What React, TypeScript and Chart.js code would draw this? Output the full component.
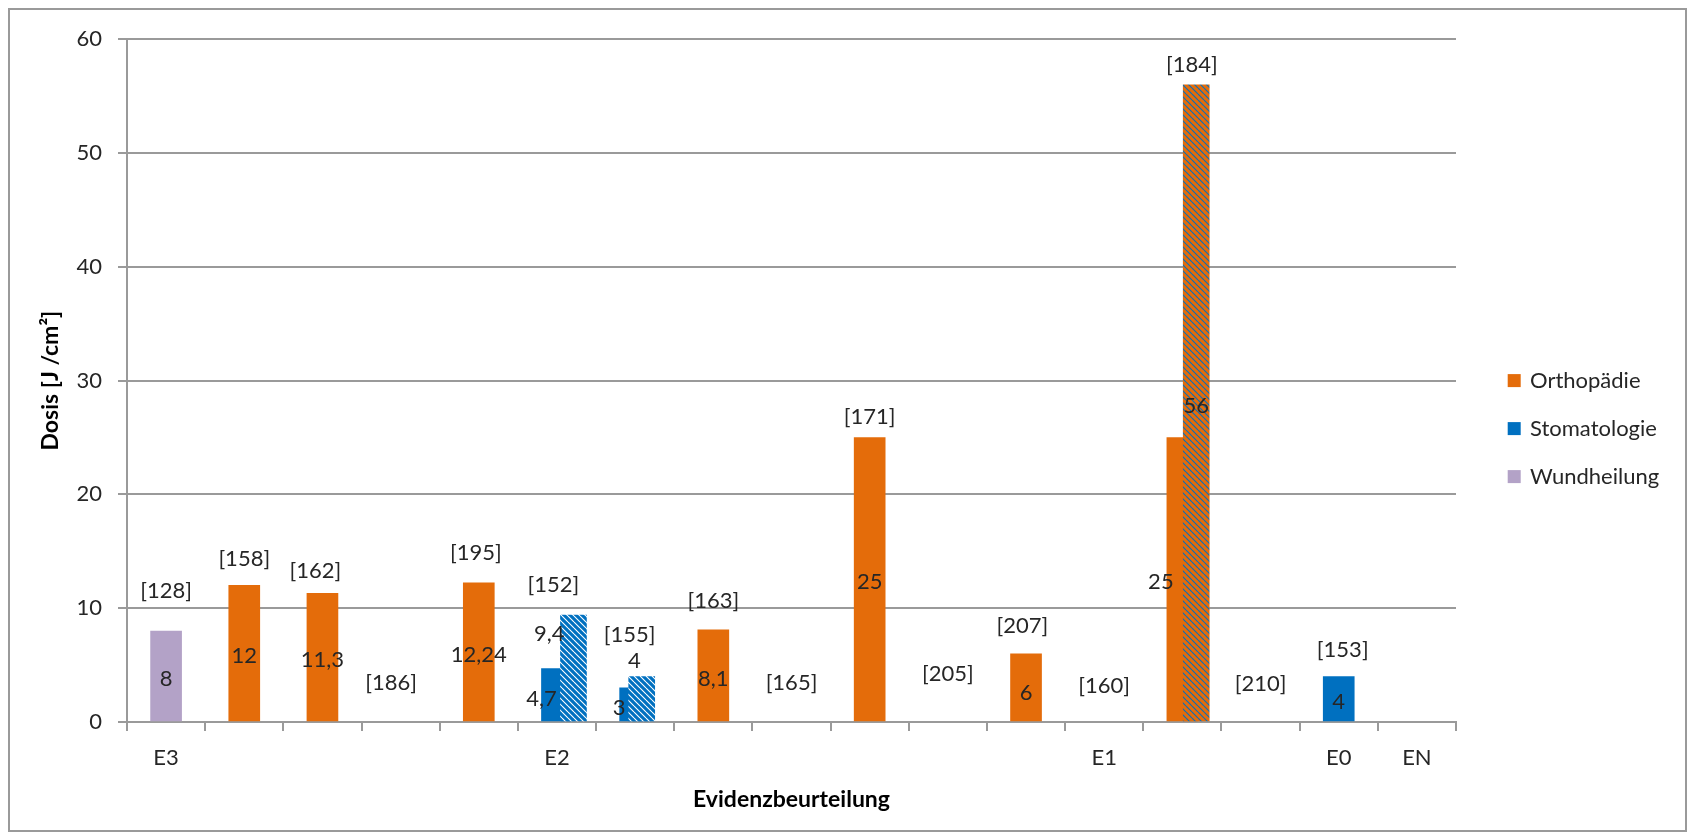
import React, { useEffect, useRef } from "react";
import { Chart, registerables } from "chart.js";

Chart.register(...registerables);

// ---------- data ----------
const categories = ["E3", "", "", "", "", "E2", "", "", "", "", "", "", "E1", "", "", "E0", "EN"];
const orthopaedie = [null, 12, 11.3, null, 12.24, null, null, 8.1, null, 25, null, 6, null, 25, null, null, null];
const stomatologie = [null, null, null, null, null, 4.7, 3, null, null, null, null, null, null, null, null, 4, null];
const wundheilung = [8, null, null, null, null, null, null, null, null, null, null, null, null, null, null, null, null];
const orthopaedieMax = [null, null, null, null, null, null, null, null, null, null, null, null, null, 56, null, null, null];
const stomatologieMax = [null, null, null, null, null, 9.4, 4, null, null, null, null, null, null, null, null, null, null];
const studyRefs = [128, 158, 162, 186, 195, 152, 155, 163, 165, 171, 205, 207, 160, 184, 210, 153, null];

// ---------- layout / style (not data) ----------
const HATCH_SHIFT = [0, 0, 0, 0, 0, 0.211, 0.084, 0, 0, 0, 0, 0, 0, 0.177, 0, 0, 0]; // fraction of a category
const REF_LIFT = [40.5, 26.5, 22.1, 39.3, 29.4, 30.5, 42, 29.4, 39.3, 20.2, 48, 27.4, 36, 20, 37.7, 26.3, 0];
const REF_DX = [0, 0, -7, -9.6, -3, -3.5, -5.6, 0, 0, 0, 0, -3.6, 0, 9.5, 0, 4, 0];
const VALUE_NUDGE: Record<string, [number, number]> = {
  "Stomatologie:5": [-15.5, 4],
  "Stomatologie:6": [-16, 3.4],
  "Stomatologie max:5": [-24.3, -34],
  "Stomatologie max:6": [-7.4, -37.4],
  "Orthopädie:13": [-21.5, 3],
  "Orthopädie:11": [0, 6],
};

const ORANGE = "#E46C0A";
const BLUE = "#0070C0";
const PURPLE = "#B3A2C7";
const AXIS = "#9a9a9a";
const TEXT = "#262626";
const FONT = "Lato";

function hatch(ctx: CanvasRenderingContext2D, bg: string, fg: string, size: number, lw: number) {
  const c = document.createElement("canvas");
  c.width = size;
  c.height = size;
  const g = c.getContext("2d")!;
  g.fillStyle = bg;
  g.fillRect(0, 0, size, size);
  g.strokeStyle = fg;
  g.lineWidth = lw;
  g.beginPath();
  for (const k of [-size, 0, size]) {
    g.moveTo(0, k);
    g.lineTo(size, size + k);
  }
  g.stroke();
  return ctx.createPattern(c, "repeat");
}

const fmt = (v: number) => String(v).replace(".", ",");

const labelPlugin = {
  id: "labelPlugin",
  afterDatasetsDraw(chart: any) {
    const { ctx, chartArea } = chart;
    const xScale = chart.scales.x;
    const yScale = chart.scales.y;
    ctx.save();
    ctx.font = `22px ${FONT}`;
    ctx.fillStyle = TEXT;
    ctx.textAlign = "center";
    ctx.textBaseline = "middle";

    // value labels
    chart.data.datasets.forEach((ds: any, di: number) => {
      const meta = chart.getDatasetMeta(di);
      meta.data.forEach((el: any, j: number) => {
        const raw = ds.data[j];
        const isObj = raw !== null && typeof raw === "object";
        const v = isObj ? raw.y : raw;
        if (v == null) return;
        const cat = isObj ? Math.round(raw.x) : j;
        const [dx, dy] = VALUE_NUDGE[`${ds.label}:${cat}`] ?? [0, 3];
        const { x, y, base } = el.getProps(["x", "y", "base"], true);
        ctx.fillText(fmt(v), x + dx, (y + base) / 2 + dy);
      });
    });

    // study reference labels
    const all = [orthopaedie, stomatologie, wundheilung, orthopaedieMax, stomatologieMax];
    categories.forEach((_, i) => {
      if (studyRefs[i] == null) return;
      const top = Math.max(0, ...all.map((a) => (a[i] ?? 0) as number));
      const x = xScale.getPixelForValue(i) + REF_DX[i];
      const y = yScale.getPixelForValue(top) - REF_LIFT[i];
      ctx.fillText(`[${studyRefs[i]}]`, x, y);
    });

    // legend (solid series only)
    const items = chart.data.datasets.filter((d: any) => !d.hatched);
    const boxX = chartArea.right + 51.7;
    const cy0 = (chartArea.top + chartArea.bottom) / 2;
    const box = 13;
    ctx.textAlign = "left";
    items.forEach((d: any, k: number) => {
      const cy = cy0 + k * 48;
      ctx.fillStyle = d.backgroundColor;
      ctx.fillRect(boxX, cy - box / 2, box, box);
      ctx.fillStyle = TEXT;
      ctx.fillText(d.label, boxX + 22.3, cy);
    });
    ctx.restore();
  },
};

export default function App() {
  const ref = useRef<HTMLCanvasElement | null>(null);

  useEffect(() => {
    const canvas = ref.current!;
    const ctx = canvas.getContext("2d")!;
    const hatchBlue = hatch(ctx, BLUE, "#ffffff", 6, 1.1);
    const hatchOrange = hatch(ctx, ORANGE, BLUE, 6, 1.1);

    const shifted = (arr: (number | null)[]) =>
      arr
        .map((v, i) => (v == null ? null : { x: i + HATCH_SHIFT[i], y: v }))
        .filter((p) => p !== null);

    const chart = new Chart(canvas, {
      type: "bar",
      data: {
        labels: categories,
        datasets: [
          {
            label: "Orthopädie",
            data: orthopaedie,
            backgroundColor: ORANGE,
            barThickness: 31,
            grouped: false,
            order: 1,
            xAxisID: "x",
          },
          {
            label: "Stomatologie",
            data: stomatologie,
            backgroundColor: BLUE,
            barThickness: 31,
            grouped: false,
            order: 1,
            xAxisID: "x",
          },
          {
            label: "Wundheilung",
            data: wundheilung,
            backgroundColor: PURPLE,
            barThickness: 31,
            grouped: false,
            order: 1,
            xAxisID: "x",
          },
          {
            label: "Orthopädie max",
            hatched: true,
            data: shifted(orthopaedieMax),
            backgroundColor: hatchOrange,
            barThickness: 26,
            grouped: false,
            order: 0,
            xAxisID: "xh",
          },
          {
            label: "Stomatologie max",
            hatched: true,
            data: shifted(stomatologieMax),
            backgroundColor: hatchBlue,
            barThickness: 26,
            grouped: false,
            order: 0,
            xAxisID: "xh",
          },
        ] as any,
      },
      options: {
        animation: false,
        responsive: false,
        maintainAspectRatio: false,
        layout: { padding: { left: 0, right: 229, top: 26, bottom: 0 } },
        plugins: {
          legend: { display: false },
          tooltip: { enabled: false },
        },
        scales: {
          x: {
            type: "category",
            offset: true,
            grid: {
              offset: true,
              drawOnChartArea: false,
              drawTicks: true,
              tickLength: 9,
              color: AXIS,
              lineWidth: 2,
            },
            border: { display: true, color: AXIS, width: 2 },
            ticks: {
              autoSkip: false,
              maxRotation: 0,
              minRotation: 0,
              padding: 14,
              color: TEXT,
              font: { family: FONT, size: 22 },
            },
            title: {
              display: true,
              text: "Evidenzbeurteilung",
              color: "#000000",
              font: { family: FONT, size: 23, weight: "bold" },
              padding: { top: 0, bottom: 17 },
            },
            afterFit: (s: any) => {
              s.height = 108;
            },
          },
          xh: {
            type: "linear",
            display: false,
            min: -0.5,
            max: 16.5,
            offset: false,
          },
          y: {
            min: 0,
            max: 60,
            ticks: {
              stepSize: 10,
              padding: 16,
              color: TEXT,
              font: { family: FONT, size: 22 },
            },
            grid: { color: AXIS, lineWidth: 2, tickLength: 9, drawTicks: true },
            border: { color: AXIS, width: 2 },
            title: {
              display: true,
              text: "Dosis [J /cm²]",
              color: "#000000",
              font: { family: FONT, size: 23, weight: "bold" },
              padding: { top: 27, bottom: 0 },
            },
            afterFit: (s: any) => {
              s.width = 117;
            },
          },
        } as any,
      },
      plugins: [labelPlugin],
    } as any);

    let alive = true;
    if ((document as any).fonts?.ready) {
      (document as any).fonts.ready.then(() => {
        if (alive) chart.update();
      });
    }
    return () => {
      alive = false;
      chart.destroy();
    };
  }, []);

  return (
    <div
      style={{
        width: 1679,
        height: 824,
        border: "2px solid #9a9a9a",
        boxSizing: "border-box",
        background: "#ffffff",
      }}
    >
      <canvas ref={ref} width={1675} height={820} style={{ display: "block" }} />
    </div>
  );
}
